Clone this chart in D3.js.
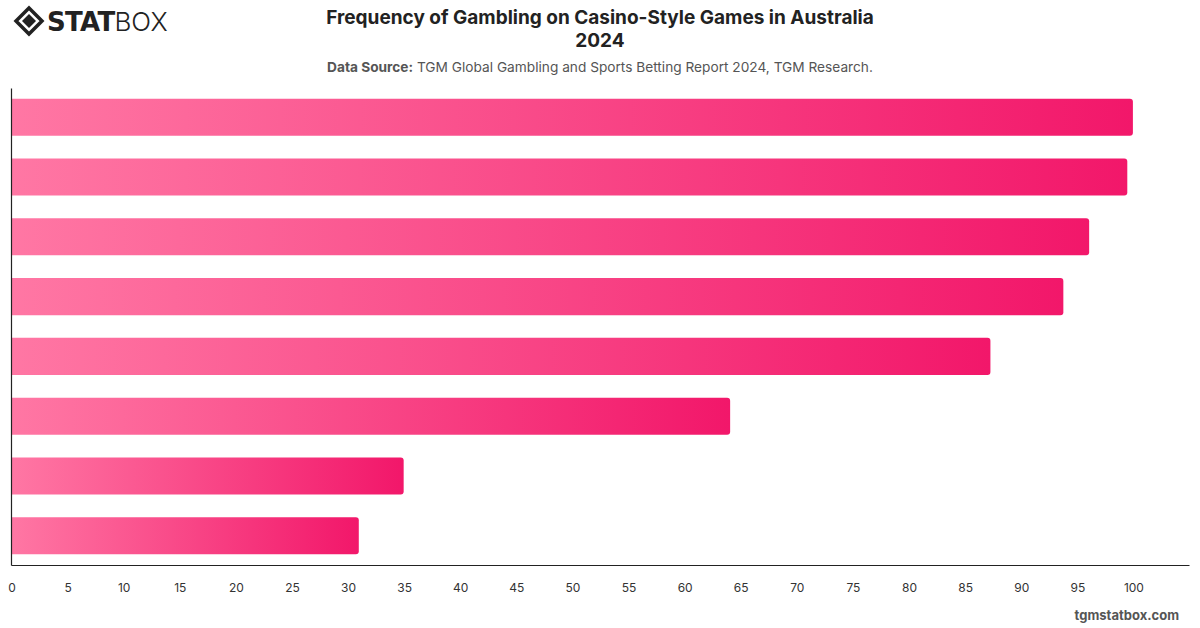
<!DOCTYPE html>
<html>
<head>
<meta charset="utf-8">
<script src="https://cdn.jsdelivr.net/npm/d3@7"></script>
<style>
  body { margin: 0; background: #fff; }
  svg { display: block; font-family: Inter, "Liberation Sans", Arial, sans-serif; }
</style>
</head>
<body>
<svg id="chart" width="1200" height="628"></svg>
<script>
// bars top to bottom, no category labels shown on the chart
var categories = ["Cat 1", "Cat 2", "Cat 3", "Cat 4", "Cat 5", "Cat 6", "Cat 7", "Cat 8"];
var values = [100, 99.5, 96.1, 93.8, 87.3, 64.1, 35.0, 31.0];
var xTicks = [0, 5, 10, 15, 20, 25, 30, 35, 40, 45, 50, 55, 60, 65, 70, 75, 80, 85, 90, 95, 100];

var svg = d3.select("#chart");

var margin = {top: 88, right: 11, bottom: 63, left: 11},
    W = 1200, H = 628;

var x = d3.scaleLinear().domain([0, 105]).range([margin.left, W - margin.right]);
var y = d3.scaleBand().domain(categories).range([margin.top, H - margin.bottom])
  .paddingInner(0.38).paddingOuter(0.18);

// gradient per bar (objectBoundingBox so every bar goes light -> dark)
var defs = svg.append("defs");
var grad = defs.append("linearGradient").attr("id", "barGrad")
  .attr("x1", "0%").attr("x2", "100%").attr("y1", "0%").attr("y2", "0%");
grad.append("stop").attr("offset", "0%").attr("stop-color", "#ff77a4");
grad.append("stop").attr("offset", "100%").attr("stop-color", "#f2176a");

var data = categories.map(function(c, i) { return {cat: c, val: values[i]}; });

// bars: flat on the left, rounded on the right
var r = 3;
svg.append("g").selectAll("path").data(data).enter().append("path")
  .attr("fill", "url(#barGrad)")
  .attr("d", function(d) {
    var x0 = x(0), x1 = x(d.val), y0 = y(d.cat), h = y.bandwidth();
    return "M" + x0 + "," + y0 +
      "H" + (x1 - r) +
      "Q" + x1 + "," + y0 + " " + x1 + "," + (y0 + r) +
      "V" + (y0 + h - r) +
      "Q" + x1 + "," + (y0 + h) + " " + (x1 - r) + "," + (y0 + h) +
      "H" + x0 + "Z";
  });

// axes
var xAxis = svg.append("g")
  .attr("transform", "translate(0," + (H - margin.bottom) + ")")
  .call(d3.axisBottom(x).tickValues(xTicks).tickSize(0).tickPadding(18));
xAxis.select(".domain").attr("stroke", "#222").attr("stroke-width", 1.2);
xAxis.selectAll("text").attr("font-size", 12).attr("fill", "#333")
  .attr("font-family", "Inter, 'Liberation Sans', sans-serif").attr("dx", 0.5);

var yAxis = svg.append("g")
  .attr("transform", "translate(" + margin.left + ",0)")
  .call(d3.axisLeft(y).tickSize(0).tickFormat(""));
yAxis.select(".domain").attr("stroke", "#222").attr("stroke-width", 1.2);

// title + subtitle
svg.append("text").attr("x", 600).attr("y", 24).attr("text-anchor", "middle")
  .attr("font-size", 19).attr("font-weight", "bold").attr("fill", "#222")
  .text("Frequency of Gambling on Casino-Style Games in Australia");
svg.append("text").attr("x", 600).attr("y", 47).attr("text-anchor", "middle")
  .attr("font-size", 19).attr("font-weight", "bold").attr("fill", "#222")
  .text("2024");

var sub = svg.append("text").attr("x", 600).attr("y", 72).attr("text-anchor", "middle")
  .attr("font-size", 13.7).attr("fill", "#555");
sub.append("tspan").attr("font-weight", "bold").text("Data Source:");
sub.append("tspan").text(" TGM Global Gambling and Sports Betting Report 2024, TGM Research.");

// watermark
svg.append("text").attr("x", 1179).attr("y", 620).attr("text-anchor", "end")
  .attr("font-size", 13).attr("font-weight", "bold").attr("fill", "#555")
  .text("tgmstatbox.com");

// logo
var logo = svg.append("g").attr("transform", "translate(29,21)");
logo.append("path").attr("d", "M0,-13 L13,0 L0,13 L-13,0 Z")
  .attr("fill", "none").attr("stroke", "#222").attr("stroke-width", 3.5);
logo.append("path").attr("d", "M0,-7 L7,0 L0,7 L-7,0 Z").attr("fill", "#222");
svg.append("text").attr("x", 47).attr("y", 31)
  .attr("font-size", 26).attr("font-weight", 900).attr("fill", "#222")
  .attr("font-family", "'DejaVu Sans', sans-serif").attr("letter-spacing", -0.7)
  .text("STAT")
  .append("tspan").attr("font-weight", 300).attr("font-family", "Inter, 'Liberation Sans', sans-serif")
  .attr("letter-spacing", 0).text("BOX");
</script>
</body>
</html>
